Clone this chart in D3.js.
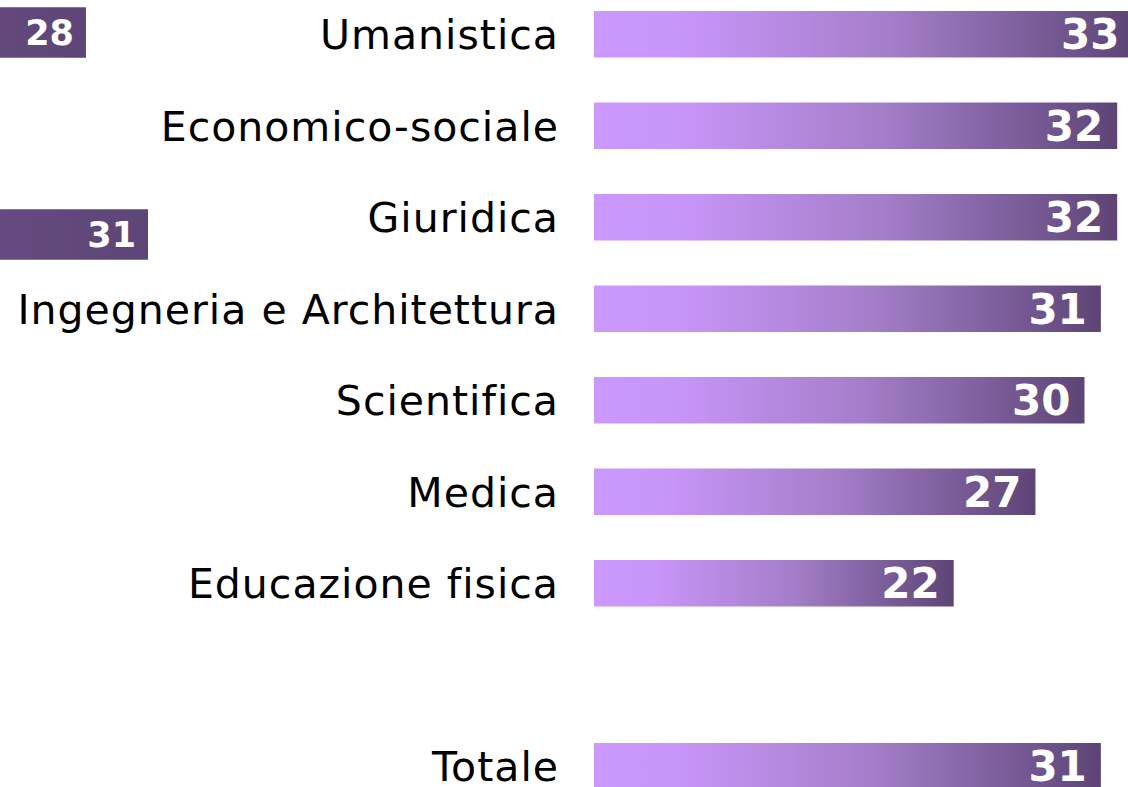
<!DOCTYPE html>
<html>
<head>
<meta charset="utf-8">
<script src="https://cdn.jsdelivr.net/npm/d3@7"></script>
<style>
  body { margin: 0; background: #fff; overflow: hidden; }
  svg { display: block; font-family: "DejaVu Sans", Verdana, sans-serif; }
</style>
</head>
<body>
<svg width="1128" height="787"></svg>
<script>
// categories and values (empty slot before "Totale")
var categories = ["Umanistica", "Economico-sociale", "Giuridica", "Ingegneria e Architettura",
                  "Scientifica", "Medica", "Educazione fisica", "", "Totale"];
var values = [33, 32, 32, 31, 30, 27, 22, null, 31];

// fragments of a neighbouring panel visible at the left edge
var sideRows = ["a", "b", "c"];
var sideValues = [28, null, 31];

var svg = d3.select("svg"),
    width = +svg.attr("width"),
    height = +svg.attr("height");

var xScale = d3.scaleLinear().domain([0, 33]).range([594, 594 + 33 * 16.35]),
    yScale = d3.scaleBand().domain(categories).range([-11.5, 812]).paddingInner(0.492).paddingOuter(0.246);

var xSide = d3.scaleLinear().domain([0, 31]).range([-493, 148]),
    ySide = d3.scaleBand().domain(sideRows).range([-18, 285]).paddingInner(0.5).paddingOuter(0.25);

// gradient per bar
var defs = svg.append("defs");
var grad = defs.append("linearGradient")
    .attr("id", "barGrad")
    .attr("x1", "0").attr("x2", "1").attr("y1", "0").attr("y2", "0");
grad.append("stop").attr("offset", "0%").attr("stop-color", "#cb99fe");
grad.append("stop").attr("offset", "18%").attr("stop-color", "#c794f7");
grad.append("stop").attr("offset", "55%").attr("stop-color", "#a47ec9");
grad.append("stop").attr("offset", "80%").attr("stop-color", "#7d5f9c");
grad.append("stop").attr("offset", "100%").attr("stop-color", "#5d4475");

var sideGrad = defs.append("linearGradient")
    .attr("id", "sideGrad")
    .attr("x1", "0").attr("x2", "1").attr("y1", "0").attr("y2", "0");
sideGrad.append("stop").attr("offset", "0%").attr("stop-color", "#7a5a98");
sideGrad.append("stop").attr("offset", "100%").attr("stop-color", "#5e4577");

var data = categories.map(function(c, i) { return { cat: c, value: values[i] }; })
    .filter(function(d) { return d.value != null; });

// Category labels
svg.append("g")
    .selectAll("text")
    .data(data)
    .enter().append("text")
    .attr("x", xScale(0) - 35)
    .attr("y", function(d) { return yScale(d.cat) + yScale.bandwidth() / 2; })
    .attr("dy", "0.36em")
    .attr("text-anchor", "end")
    .style("font-size", "41px")
    .style("letter-spacing", "1px")
    .attr("fill", "#000")
    .text(function(d) { return d.cat; });

// Bars
svg.selectAll(".bar")
    .data(data)
    .enter().append("rect")
    .attr("class", "bar")
    .attr("x", xScale(0))
    .attr("y", function(d) { return yScale(d.cat); })
    .attr("width", function(d) { return xScale(d.value) - xScale(0); })
    .attr("height", yScale.bandwidth())
    .attr("fill", "url(#barGrad)");

// Value labels
svg.selectAll(".val")
    .data(data)
    .enter().append("text")
    .attr("class", "val")
    .attr("x", function(d) { return xScale(d.value) - 14; })
    .attr("y", function(d) { return yScale(d.cat) + yScale.bandwidth() / 2; })
    .attr("dy", "0.36em")
    .attr("text-anchor", "end")
    .style("font-size", "42px")
    .style("font-weight", "bold")
    .attr("fill", "#fff")
    .text(function(d) { return d.value; });

// Left-edge fragments
var side = sideRows.map(function(r, i) { return { row: r, value: sideValues[i] }; })
    .filter(function(d) { return d.value != null; });

svg.selectAll(".side")
    .data(side)
    .enter().append("rect")
    .attr("class", "side")
    .attr("x", xSide(0))
    .attr("y", function(d) { return ySide(d.row); })
    .attr("width", function(d) { return xSide(d.value) - xSide(0); })
    .attr("height", ySide.bandwidth())
    .attr("fill", "url(#sideGrad)");

svg.selectAll(".sideVal")
    .data(side)
    .enter().append("text")
    .attr("class", "sideVal")
    .attr("x", function(d) { return xSide(d.value) - 12; })
    .attr("y", function(d) { return ySide(d.row) + ySide.bandwidth() / 2; })
    .attr("dy", "0.36em")
    .attr("text-anchor", "end")
    .style("font-size", "35px")
    .style("font-weight", "bold")
    .attr("fill", "#fff")
    .text(function(d) { return d.value; });
</script>
</body>
</html>
